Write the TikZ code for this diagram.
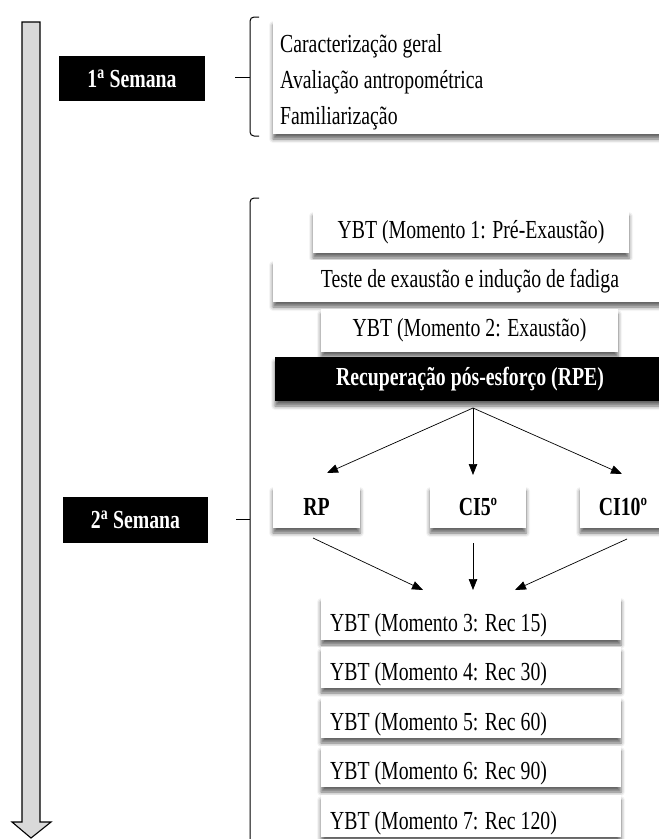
\documentclass[tikz,border=0pt]{standalone}
\usepackage{fontspec}
\setmainfont[FakeStretch=0.76,WordSpace=1.0]{Liberation Serif}
\usetikzlibrary{arrows.meta,shadows.blur}
\begin{document}
\begin{tikzpicture}[x=1pt,y=-1pt,
  txt/.style={font=\fontsize{26}{36}\selectfont},
  shd/.style={blur shadow={shadow xshift=0pt, shadow yshift=-5pt, shadow blur radius=4pt, shadow opacity=60}},
  wbox/.style={txt, fill=white, inner sep=0pt, shd},
  ltxt/.style={txt, inner sep=0pt, anchor=base west},
  bbox/.style={fill=black, text=white, inner sep=0pt, font=\fontsize{26}{36}\selectfont\bfseries},
  bwbox/.style={wbox, font=\fontsize{26}{36}\selectfont\bfseries},
  conn/.style={draw=black, line width=0.7pt, -{Triangle[length=11pt,width=8.5pt]}},
  bracket/.style={draw=black, line width=1pt}
]
\useasboundingbox (0,0) rectangle (659,839);
\clip (0,0) rectangle (659,839);

% time arrow
\draw[fill=black!15, line width=1.1pt, line join=miter]
  (22,22) -- (40,22) -- (40,822) -- (51,822) -- (31,838) -- (12,822) -- (22,822) -- cycle;

% week labels
\node[bbox, minimum width=146pt, minimum height=45pt] (w1) at (132,78.5) {1\textsuperscript{a} Semana};
\node[bbox, minimum width=145pt, minimum height=46pt] (w2) at (135.5,520) {2\textsuperscript{a} Semana};

% brackets
\draw[bracket, rounded corners=4pt] (259,17) -- (250,17) -- (250,136) -- (259,136);
\draw[bracket] (235,77) -- (250,77);
\draw[bracket, rounded corners=4pt] (259,198) -- (250,198) -- (250,850);
\draw[bracket] (236,519) -- (250,519);

% week 1 box
\node[wbox, minimum width=400pt, minimum height=114pt] (s1) at (473,77) {};
\node[ltxt] (s1a) at (280,52) {Caracterização geral};
\node[ltxt] (s1b) at (280,88) {Avaliação antropométrica};
\node[ltxt] (s1c) at (280,124) {Familiarização};

% week 2 sequence
\node[wbox, minimum width=316pt, minimum height=42pt] (m1) at (471,232) {YBT (Momento 1: Pré-Exaustão)};
\node[wbox, minimum width=394pt, minimum height=42pt] (tx) at (470,281) {Teste de exaustão e indução de fadiga};
\node[wbox, minimum width=297pt, minimum height=43pt] (m2) at (469.5,330.5) {YBT (Momento 2: Exaustão)};
\node[bbox, minimum width=390pt, minimum height=44pt, shd] (rpe) at (470,379) {Recuperação pós-esforço (RPE)};

\node[bwbox, minimum width=87pt, minimum height=42pt] (rp) at (316.5,507) {RP};
\node[bwbox, minimum width=96pt, minimum height=42pt] (ci5) at (478,507) {CI5º};
\node[bwbox, minimum width=86pt, minimum height=42pt] (ci10) at (623,507) {CI10º};

\coordinate (split) at (473,408);
\coordinate (rpin) at (327,473);
\coordinate (ci5in) at (473,475);
\coordinate (ci10in) at (622,474);
\draw[conn] (split) -- (rpin);
\draw[conn] (split) -- (ci5in);
\draw[conn] (split) -- (ci10in);

\coordinate (rpout) at (313,538);
\coordinate (ci5out) at (473,543);
\coordinate (ci10out) at (627,539);
\coordinate (in1) at (423,590);
\coordinate (in2) at (473,590);
\coordinate (in3) at (515,590);
\draw[conn] (rpout) -- (in1);
\draw[conn] (ci5out) -- (in2);
\draw[conn] (ci10out) -- (in3);

% recovery moments
\node[wbox, minimum width=300pt, minimum height=43pt] (r3) at (471,618.5) {};
\node[ltxt] (r3t) at (330,631) {YBT (Momento 3: Rec 15)};
\node[wbox, minimum width=300pt, minimum height=41pt] (r4) at (471,667.5) {};
\node[ltxt] (r4t) at (330,680) {YBT (Momento 4: Rec 30)};
\node[wbox, minimum width=300pt, minimum height=41pt] (r5) at (471,717.5) {};
\node[ltxt] (r5t) at (330,730) {YBT (Momento 5: Rec 60)};
\node[wbox, minimum width=300pt, minimum height=41pt] (r6) at (471,766.5) {};
\node[ltxt] (r6t) at (330,779) {YBT (Momento 6: Rec 90)};
\node[wbox, minimum width=300pt, minimum height=42pt] (r7) at (471,816) {};
\node[ltxt] (r7t) at (330,829) {YBT (Momento 7: Rec 120)};
\end{tikzpicture}
\end{document}
